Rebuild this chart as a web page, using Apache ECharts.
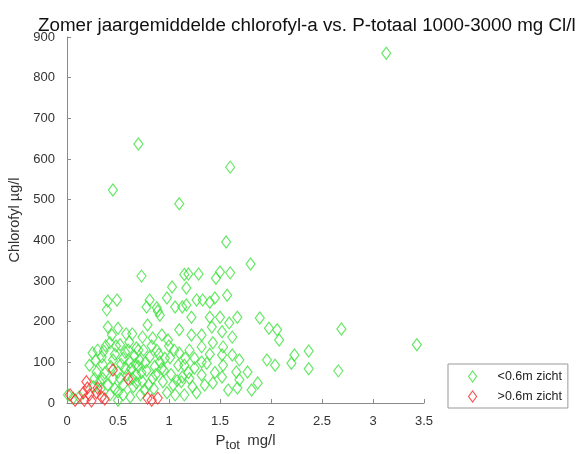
<!DOCTYPE html>
<html>
<head>
<meta charset="utf-8">
<script src="https://cdn.jsdelivr.net/npm/echarts@6/dist/echarts.min.js"></script>
<style>html,body{margin:0;padding:0;background:#fff}#c{width:588px;height:454px}</style>
</head>
<body>
<div id="c"></div>
<script>
// ---- data ----
const titleText = 'Zomer jaargemiddelde chlorofyl-a vs. P-totaal 1000-3000 mg Cl/l';
const legendNames = ['<0.6m zicht', '>0.6m zicht'];
const xTicks = [0, 0.5, 1, 1.5, 2, 2.5, 3, 3.5];
const yTicks = [0, 100, 200, 300, 400, 500, 600, 700, 800, 900];

const greenX = [3.13,0.70,0.45,1.60,1.10,1.56,0.73,1.15,1.80,1.19,1.29,1.50,1.60,1.46,1.03,0.40,0.49,0.39,0.78,0.88,
  0.81,0.98,1.06,1.13,0.91,0.40,0.50,0.44,0.64,0.79,0.74,0.84,0.93,0.99,1.10,0.42,0.52,0.60,0.68,0.25,
  0.34,0.45,0.55,0.62,0.71,0.81,0.91,1.01,1.09,0.22,0.29,0.37,0.50,0.59,0.68,0.74,0.84,0.94,1.04,1.12,
  0.32,0.40,0.50,0.42,0.76,0.98,1.06,0.50,0.01,1.17,1.57,1.27,1.33,1.40,1.22,1.40,1.50,1.67,1.89,1.59,
  1.42,1.52,1.98,2.06,1.22,1.32,1.62,2.08,1.43,1.32,1.20,1.53,1.10,1.52,1.62,2.23,1.32,1.37,1.53,1.69,
  1.96,2.04,2.20,1.15,1.25,1.66,1.77,1.13,1.32,1.52,1.69,1.43,1.58,1.67,1.81,1.87,1.27,1.15,1.35,2.37,
  2.37,2.69,2.66,3.43,0.30,0.35,0.38,0.47,0.53,0.57,0.63,0.66,0.70,0.75,0.78,0.86,0.88,0.95,1.00,0.27,
  0.33,0.45,0.55,0.65,0.72,0.85,1.20,1.25,1.40,1.45,0.58,1.45,0.89,1.17,
  0.28,0.36,0.43,0.48,0.52,0.57,0.61,0.64,0.67,0.70,0.73,0.77,0.80,0.83,0.87,0.90,0.93,0.96,1.02,1.05,
  1.08,1.16,1.19,1.23,0.55,0.62,0.35,0.26,0.47,0.68,0.06,0.12];
const greenY = [860,637,524,580,490,396,312,316,342,317,317,322,320,307,285,251,253,229,236,234,
  253,258,236,236,216,187,184,167,170,192,162,160,167,155,180,148,143,130,135,123,
  113,106,110,101,106,113,101,111,93,93,76,74,76,69,69,52,61,52,44,52,
  52,44,27,20,32,25,20,7,20,283,265,253,253,248,211,211,211,211,209,197,
  187,175,184,180,167,167,162,155,148,138,130,138,123,118,118,118,101,98,93,106,
  106,93,98,93,86,76,76,64,69,64,57,49,32,37,32,49,25,20,44,128,
  84,182,79,143,130,95,140,120,95,125,85,115,90,130,80,90,130,80,140,60,
  35,60,45,40,20,35,60,110,120,75,170,258,226,241,
  105,128,90,140,60,85,150,60,95,130,75,100,45,140,70,120,85,110,70,130,
  55,110,75,40,20,15,60,40,35,50,12,15];

const redX = [0.45,0.60,0.19,0.20,0.30,0.16,0.22,0.29,0.34,0.03,0.08,0.17,0.24,0.37,0.79,0.89,0.83];
const redY = [81,59,52,37,37,25,20,25,15,20,7,7,5,10,12,12,7];

// ---- build ----
const greenData = greenX.map((x, i) => [x, greenY[i]]);
const redData = redX.map((x, i) => [x, redY[i]]);
const greenCol = '#3de23d';
const redCol = '#ff2a2a';

const chart = echarts.init(document.getElementById('c'), null, {renderer: 'canvas'});
const axisCol = '#8a8a8a';
const txtCol = '#333';
const font = 'Arial, "Liberation Sans", Helvetica, sans-serif';

chart.setOption({
  animation: false,
  backgroundColor: '#fff',
  textStyle: {fontFamily: font},
  title: {
    text: titleText,
    left: 33, top: 11,
    textStyle: {fontFamily: font, fontSize: 18.8, fontWeight: 'normal', color: '#111'}
  },
  grid: {left: 67, right: 164, top: 37, bottom: 51, containLabel: false, outerBoundsMode: 'none'},
  legend: {
    orient: 'vertical',
    left: 448, top: 364,
    data: [
      {name: legendNames[0], itemStyle: {color: 'rgba(0,0,0,0)', borderColor: greenCol, borderWidth: 1.2}},
      {name: legendNames[1], itemStyle: {color: 'rgba(0,0,0,0)', borderColor: redCol, borderWidth: 1.2}}
    ],
    icon: 'diamond',
    itemWidth: 8, itemHeight: 11,
    itemGap: 7,
    padding: [6, 6, 5, 20],
    borderColor: '#999', borderWidth: 1,
    textStyle: {fontFamily: font, fontSize: 12.5, color: '#222', padding: [0, 0, 0, 16]}
  },
  xAxis: {
    type: 'value', min: 0, max: 3.5, interval: 0.5,
    name: 'P{sub|tot} mg/l',
    nameLocation: 'middle', nameGap: 26,
    nameTextStyle: {
      fontFamily: font, fontSize: 15, color: txtCol,
      rich: {sub: {fontFamily: font, fontSize: 13, color: txtCol, padding: [10, 3, 0, 0]}}
    },
    axisLine: {show: true, lineStyle: {color: axisCol, width: 1}},
    axisTick: {show: true, inside: true, length: 4, lineStyle: {color: axisCol}},
    axisLabel: {fontFamily: font, fontSize: 13, color: txtCol, margin: 12,
      formatter: v => String(v)},
    splitLine: {show: false}
  },
  yAxis: {
    type: 'value', min: 0, max: 900, interval: 100,
    name: 'Chlorofyl µg/l',
    nameLocation: 'middle', nameGap: 37,
    nameTextStyle: {fontFamily: font, fontSize: 14.5, color: txtCol},
    axisLine: {show: true, lineStyle: {color: axisCol, width: 1}},
    axisTick: {show: true, inside: true, length: 4, lineStyle: {color: axisCol}},
    axisLabel: {fontFamily: font, fontSize: 13, color: txtCol, margin: 12},
    splitLine: {show: false}
  },
  series: [
    {
      name: legendNames[0], type: 'scatter', data: greenData,
      symbol: 'diamond', symbolSize: [9, 12],
      itemStyle: {color: 'rgba(0,0,0,0)', borderColor: greenCol, borderWidth: 1.2}
    },
    {
      name: legendNames[1], type: 'scatter', data: redData,
      symbol: 'diamond', symbolSize: [9, 12],
      itemStyle: {color: 'rgba(0,0,0,0)', borderColor: redCol, borderWidth: 1.2}
    }
  ]
});
</script>
</body>
</html>
